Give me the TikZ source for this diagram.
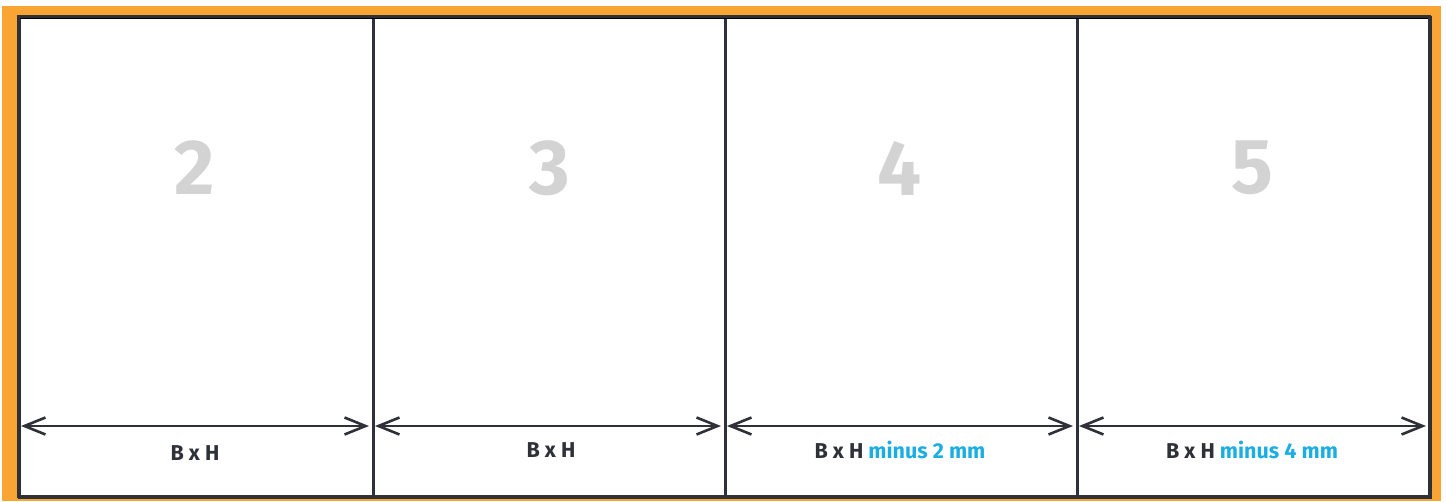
\documentclass[tikz,border=0pt]{standalone}
\usepackage{fontspec}
\setmainfont{Fira Sans}
\usetikzlibrary{arrows.meta}
\definecolor{orng}{HTML}{F9A533}
\definecolor{dark}{HTML}{2E3138}
\definecolor{cyanb}{HTML}{1CADE4}
\definecolor{lgray}{HTML}{D3D3D3}
\definecolor{shade}{HTML}{D8DCE0}
\begin{document}
\begin{tikzpicture}[x=1pt,y=-1pt,
  panel/.style={draw=dark,line width=3pt,fill=white,rectangle,inner sep=0pt,minimum height=480pt,anchor=north west},
  dim/.style={draw=dark,line width=2.6pt,{Straight Barb[length=21pt,width=17pt]}-{Straight Barb[length=21pt,width=17pt]}},
  bignum/.style={text=lgray,font=\fontsize{78}{78}\selectfont\bfseries,inner sep=0pt},
  lbl/.style={text=dark,font=\fontsize{21.5}{21.5}\selectfont\bfseries,inner sep=0pt}]
\useasboundingbox (0,0) rectangle (1446,501);
\fill[orng] (2,6) rectangle (1441,501);
\node[panel,minimum width=354pt] (p1) at (18,16) {};
\node[panel,minimum width=352pt] (p2) at (372,16) {};
\node[panel,minimum width=352pt] (p3) at (724,16) {};
\node[panel,minimum width=353pt] (p4) at (1076,16) {};
\draw[shade,line width=1pt] (19.5,18.5) -- (1427.5,18.5);
\draw[dark,line width=3pt] (18,16) rectangle (1429,496);
\foreach \i/\x in {1/195,2/550,3/900,4/1252}{
  \node[bignum] (n\i) at (\x,168) {\the\numexpr\i+1\relax};
}
\coordinate (a1l) at (21,426);  \coordinate (a1r) at (369,426);
\coordinate (a2l) at (375,426); \coordinate (a2r) at (721,426);
\coordinate (a3l) at (727,426); \coordinate (a3r) at (1073,426);
\coordinate (a4l) at (1079,426);\coordinate (a4r) at (1426,426);
\draw[dim] (a1l) -- (a1r);
\draw[dim] (a2l) -- (a2r);
\draw[dim] (a3l) -- (a3r);
\draw[dim] (a4l) -- (a4r);
\node[lbl] (l1) at (195,453) {B x H};
\node[lbl] (l2) at (551,450) {B x H};
\node[lbl] (l3) at (900,450) {B x H \textcolor{cyanb}{minus 2 mm}};
\node[lbl] (l4) at (1252,450) {B x H \textcolor{cyanb}{minus 4 mm}};
\end{tikzpicture}
\end{document}
